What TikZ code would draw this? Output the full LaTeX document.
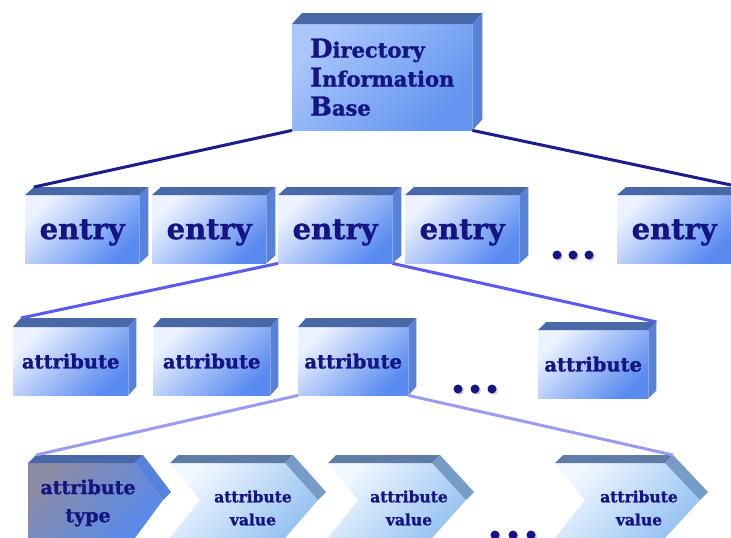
\documentclass[tikz,border=0pt]{standalone}
\usepackage{fontspec}
\setmainfont{DejaVu Serif}[BoldFeatures={FakeBold=1.3}]
\usetikzlibrary{calc,shadows}
\definecolor{txt}{RGB}{20,20,130}
\definecolor{lineA}{RGB}{28,28,140}
\definecolor{lineB}{RGB}{90,90,240}
\definecolor{lineC}{RGB}{155,155,242}
\definecolor{frontL}{RGB}{236,242,255}
\definecolor{frontD}{RGB}{88,138,240}
\definecolor{dibL}{RGB}{170,198,252}
\definecolor{dibD}{RGB}{98,148,240}
\definecolor{topF}{RGB}{72,104,168}
\definecolor{sideF}{RGB}{86,130,220}
\definecolor{typeL}{RGB}{140,140,165}
\definecolor{typeD}{RGB}{88,138,236}
\definecolor{valL}{RGB}{242,248,255}
\definecolor{valD}{RGB}{150,194,242}
\definecolor{valTop}{RGB}{94,124,164}
\definecolor{valSide}{RGB}{120,156,200}
\tikzset{
  cube/.style={draw=none, inner sep=0pt, anchor=north west,
    top color=frontL, bottom color=frontD, shading angle=45, text=txt},
  dibbox/.style={cube, top color=dibL, bottom color=dibD, shading angle=45,
    minimum width=180pt, minimum height=106pt, align=left,
    font=\fontsize{21}{29}\selectfont\bfseries},
  entrybox/.style={cube, minimum width=114pt, minimum height=68pt,
    text depth=0pt, font=\fontsize{29}{30}\selectfont\bfseries},
  attrbox/.style={cube, minimum height=68pt,
    font=\fontsize{19.5}{22}\selectfont\bfseries},
  topface/.style={fill=topF},
  sideface/.style={fill=sideF},
  lnA/.style={draw=lineA, line width=3pt},
  lnB/.style={draw=lineB, line width=3pt},
  lnC/.style={draw=lineC, line width=3pt},
  typetext/.style={text=txt, align=center, font=\fontsize{19}{28}\selectfont\bfseries},
  valtext/.style={text=txt, align=center, font=\fontsize{15.5}{23}\selectfont\bfseries},
  dotn/.style={circle, fill=txt, inner sep=0pt, minimum size=9pt,
    drop shadow={shadow xshift=1.5pt, shadow yshift=-1.5pt, opacity=0.35}},
}
\newcommand\boxfaces[3]{%
  \fill[topface] (#1.north west) -- ++(#2,#3) -- ($(#1.north east)+(#2,#3)$) -- (#1.north east) -- cycle;
  \fill[sideface] (#1.north east) -- ++(#2,#3) -- ($(#1.south east)+(#2,#3)$) -- (#1.south east) -- cycle;
  \coordinate (#1btl) at ($(#1.north west)+(#2,#3)$);
  \coordinate (#1btr) at ($(#1.north east)+(#2,#3)$);
}
\begin{document}
\begin{tikzpicture}[x=1pt,y=-1pt]
\clip (0,0) rectangle (731,538);
\fill[white] (0,0) rectangle (731,538);

% root
\node[dibbox] (dib) at (292,24) {{\fontsize{26}{29}\selectfont D}irectory\\{\fontsize{26}{29}\selectfont I}nformation\\{\fontsize{26}{29}\selectfont B}ase};
\boxfaces{dib}{10pt}{11pt}

% entries
\node[entrybox] (e1) at (25,195) {entry};
\node[entrybox] (e2) at (152,195) {entry};
\node[entrybox] (e3) at (278,195) {entry};
\node[entrybox] (e4) at (405,195) {entry};
\node[entrybox] (e5) at (617,195) {entry};
\boxfaces{e1}{9pt}{8pt}
\boxfaces{e2}{9pt}{8pt}
\boxfaces{e3}{9pt}{8pt}
\boxfaces{e4}{9pt}{8pt}
\boxfaces{e5}{9pt}{8pt}
\node[dotn] (ed1) at (557,255) {};
\node[dotn] (ed2) at (573,255) {};
\node[dotn] (ed3) at (589,255) {};

% attributes
\node[attrbox, minimum width=115pt] (a1) at (13,327) {attribute};
\node[attrbox, minimum width=117pt] (a2) at (153,327) {attribute};
\node[attrbox, minimum width=110pt] (a3) at (298,327) {attribute};
\node[attrbox, minimum width=110pt] (a4) at (538,330) {attribute};
\boxfaces{a1}{8pt}{9pt}
\boxfaces{a2}{8pt}{9pt}
\boxfaces{a3}{8pt}{9pt}
\boxfaces{a4}{8pt}{8pt}
\node[dotn] (ad1) at (458,389) {};
\node[dotn] (ad2) at (475,389) {};
\node[dotn] (ad3) at (492,389) {};

% chevrons
\shade[top color=typeL, bottom color=typeD, shading angle=45]
  (28,463) -- (135,463) -- (163,500) -- (135,538) -- (28,538) -- cycle;
\fill[topface] (28,463) -- (36,455) -- (143,455) -- (135,463) -- cycle;
\fill[sideface] (135,463) -- (143,455) -- (171,492) -- (163,500) -- cycle;
\coordinate (c1tl) at (36,455);

\shade[top color=valL, bottom color=valD, shading angle=45]
  (170,463) -- (285,463) -- (318,500) -- (285,538) -- (170,538) -- (200,500) -- cycle;
\fill[valTop] (170,463) -- (178,455) -- (293,455) -- (285,463) -- cycle;
\fill[valSide] (285,463) -- (293,455) -- (326,492) -- (318,500) -- cycle;

\shade[top color=valL, bottom color=valD, shading angle=45]
  (328,463) -- (432,463) -- (466,500) -- (432,538) -- (328,538) -- (358,500) -- cycle;
\fill[valTop] (328,463) -- (336,455) -- (440,455) -- (432,463) -- cycle;
\fill[valSide] (432,463) -- (440,455) -- (474,492) -- (466,500) -- cycle;

\shade[top color=valL, bottom color=valD, shading angle=45]
  (555,463) -- (665,463) -- (700,500) -- (665,538) -- (555,538) -- (585,500) -- cycle;
\fill[valTop] (555,463) -- (563,455) -- (673,455) -- (665,463) -- cycle;
\fill[valSide] (665,463) -- (673,455) -- (708,492) -- (700,500) -- cycle;
\coordinate (c4tr) at (673,455);

\node[typetext] (t1) at (88,503) {attribute\\type};
\node[valtext] (v1) at (253,508) {attribute\\value};
\node[valtext] (v2) at (409,508) {attribute\\value};
\node[valtext] (v3) at (639,508) {attribute\\value};
\node[dotn] (vd1) at (495,535) {};
\node[dotn] (vd2) at (513,535) {};
\node[dotn] (vd3) at (531,535) {};

% connectors
\draw[lnA] (dib.south west) -- (e1btl);
\draw[lnA] (dib.south east) -- (e5btr);
\draw[lnB] (e3.south west) -- (a1btl);
\draw[lnB] (e3.south east) -- (a4btr);
\draw[lnC] (a3.south west) -- (c1tl);
\draw[lnC] (a3.south east) -- (c4tr);
\end{tikzpicture}
\end{document}
